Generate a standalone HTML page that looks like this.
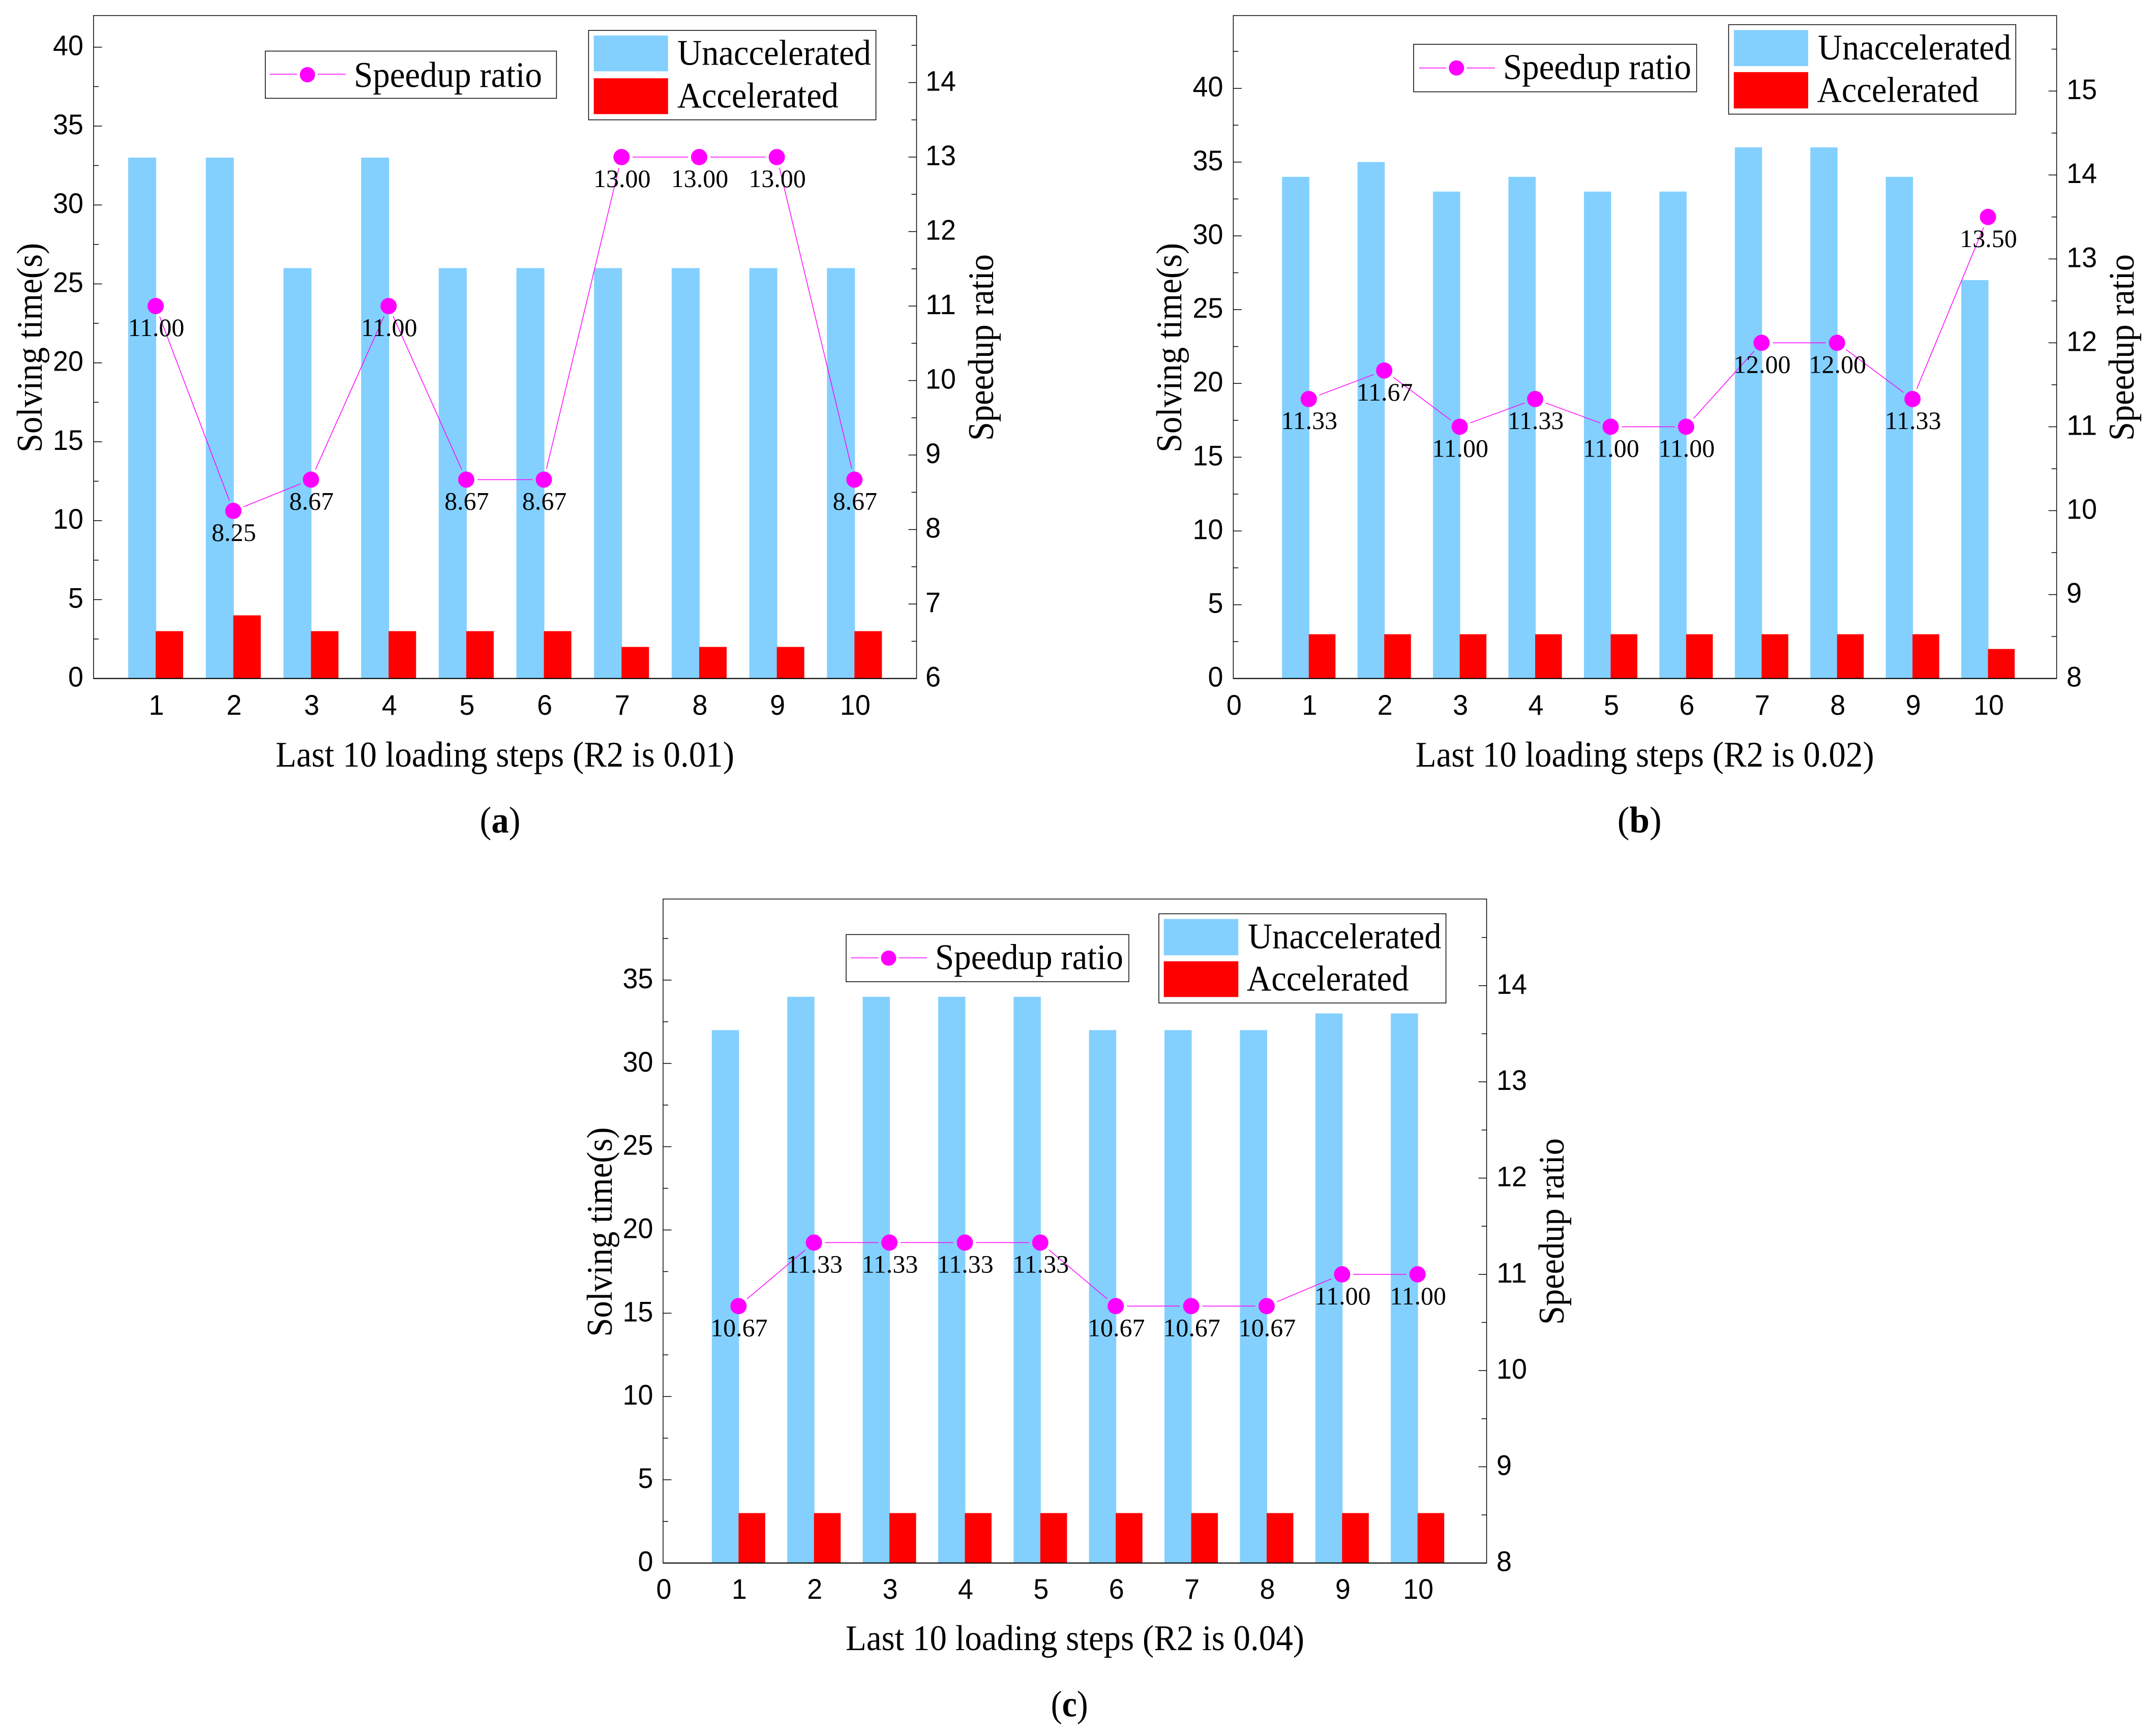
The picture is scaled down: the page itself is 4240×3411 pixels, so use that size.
<!DOCTYPE html>
<html lang="en">
<head>
<meta charset="utf-8">
<title>Solving time and speedup ratio for the last 10 loading steps</title>
<style>
html,body{margin:0;padding:0;background:#fff;}
svg{display:block;}
.serif{font-family:"Liberation Serif",serif;}
.sans{font-family:"Liberation Sans",sans-serif;}
</style>
</head>
<body>
<svg id="figure" xmlns="http://www.w3.org/2000/svg" width="4240" height="3411" viewBox="0 0 4240 3411"></svg>
<script>
// ---- chart data ----
const stepsA = [1,2,3,4,5,6,7,8,9,10];
const unacceleratedA = [33,33,26,33,26,26,26,26,26,26];
const acceleratedA = [3,4,3,3,3,3,2,2,2,3];
const speedupA = [11,8.25,8.67,11,8.67,8.67,13,13,13,8.67];
const xTickLabelsA = [1,2,3,4,5,6,7,8,9,10];
const leftTickLabelsA = [0,5,10,15,20,25,30,35,40];
const rightTickLabelsA = [6,7,8,9,10,11,12,13,14];

const stepsB = [1,2,3,4,5,6,7,8,9,10];
const unacceleratedB = [34,35,33,34,33,33,36,36,34,27];
const acceleratedB = [3,3,3,3,3,3,3,3,3,2];
const speedupB = [11.33,11.67,11,11.33,11,11,12,12,11.33,13.5];
const xTickLabelsB = [0,1,2,3,4,5,6,7,8,9,10];
const leftTickLabelsB = [0,5,10,15,20,25,30,35,40];
const rightTickLabelsB = [8,9,10,11,12,13,14,15];

const stepsC = [1,2,3,4,5,6,7,8,9,10];
const unacceleratedC = [32,34,34,34,34,32,32,32,33,33];
const acceleratedC = [3,3,3,3,3,3,3,3,3,3];
const speedupC = [10.67,11.33,11.33,11.33,11.33,10.67,10.67,10.67,11,11];
const xTickLabelsC = [0,1,2,3,4,5,6,7,8,9,10];
const leftTickLabelsC = [0,5,10,15,20,25,30,35];
const rightTickLabelsC = [8,9,10,11,12,13,14];

const xTitles = ["Last 10 loading steps (R2 is 0.01)","Last 10 loading steps (R2 is 0.02)","Last 10 loading steps (R2 is 0.04)"];

// ---- layout ----
const panels = [
 {id:"a", steps:stepsA, blue:unacceleratedA, red:acceleratedA, ratio:speedupA, xt:xTickLabelsA, lt:leftTickLabelsA, rt:rightTickLabelsA, title:xTitles[0],
  L:184, R:1802.5, T:30.6, B:1334.7, x0:0.2, x1:10.8, yMax:42, r0:6, r1:14.9, leftStep:5, rightStep:1,
  leftLabelX:164, rightLabelX:1820, xLabelY:1406,
  leftTitle:{x:82, y:890}, rightTitle:{x:1953, y:867}, xTitle:{x:542, y:1508, len:902},
  sub:{x:943.5, y:1637.5, len:80},
  sl:{x:521.7,y:100.5,r:1094.4,b:193.4, lx0:530.6,lx1:680, cx:604.6, cy:147, ly:146, tx:696, tlen:370, ty:171},
  bl:{x:1157.5,y:59.7,r:1722.6,b:235.7, sx0:1167.7,sx1:1313.8, by0:69.9,by1:140.3, ry0:154,ry1:224.5, ux:1332,ulen:381,uy:127.5, ax:1332,alen:317,ay:211.7}},
 {id:"b", steps:stepsB, blue:unacceleratedB, red:acceleratedB, ratio:speedupB, xt:xTickLabelsB, lt:leftTickLabelsB, rt:rightTickLabelsB, title:xTitles[1],
  L:2425.4, R:4044.6, T:30.6, B:1334.7, x0:0, x1:10.91, yMax:44.93, r0:8, r1:15.9, leftStep:5, rightStep:1,
  leftLabelX:2405.5, rightLabelX:4064, xLabelY:1406,
  leftTitle:{x:2323, y:890}, rightTitle:{x:4196, y:867}, xTitle:{x:2783.7, y:1508, len:902},
  sub:{x:3180.7, y:1637.5, len:87},
  sl:{x:2780,y:87.2,r:3336.6,b:180.6, lx0:2790.7,lx1:2940, cx:2864.3, cy:133.7, ly:133.7, tx:2956, tlen:370, ty:155.6},
  bl:{x:3399.5,y:48.5,r:3964.3,b:224.5, sx0:3409.7,sx1:3556, by0:59.2,by1:130, ry0:141.8,ry1:213.3, ux:3575,ulen:380,uy:116.8, ax:3573.6,alen:318,ay:200.5}},
 {id:"c", steps:stepsC, blue:unacceleratedC, red:acceleratedC, ratio:speedupC, xt:xTickLabelsC, lt:leftTickLabelsC, rt:rightTickLabelsC, title:xTitles[2],
  L:1304, R:2923.6, T:1768.5, B:3074.7, x0:0, x1:10.916, yMax:39.87, r0:8, r1:14.9, leftStep:5, rightStep:1,
  leftLabelX:1284.5, rightLabelX:2943, xLabelY:3145,
  leftTitle:{x:1203, y:2629.5}, rightTitle:{x:3075, y:2606}, xTitle:{x:1663, y:3246, len:902},
  sub:{x:2066.7, y:3376.7, len:73},
  sl:{x:1664,y:1838.4,r:2220,b:1931.2, lx0:1673.8,lx1:1823, cx:1747.5, cy:1884.8, ly:1884.3, tx:1839, tlen:370, ty:1906.7},
  bl:{x:2279,y:1797.5,r:2843.6,b:1973, sx0:2288.7,sx1:2435.3, by0:1807.8,by1:1879.2, ry0:1891,ry1:1961.3, ux:2454,ulen:380.5,uy:1865.4, ax:2452,alen:318.6,ay:1948.6}}
];

const NS = "http://www.w3.org/2000/svg";
const root = document.getElementById("figure");
const BLUE = "#83d0ff", RED = "#ff0000", MAG = "#ff00ff";
const BAR_W_UNITS = 0.354;
const LINE_GAP = 22;
const SERIF_SIZE = 71;
const SANS_SIZE = 56;
const DIGIT_WIDTH = 30;

function shape(parent, tag, attrs){
  const el = document.createElementNS(NS, tag);
  for (const k in attrs) el.setAttribute(k, attrs[k]);
  parent.appendChild(el);
  return el;
}
function label(parent, str, x, y, cls, size, anchor, len, rot){
  const el = shape(parent, "text", {x:x, y:y, "class":cls, "font-size":size, "text-anchor":anchor || "start", fill:"#000"});
  if (len) { el.setAttribute("textLength", len); el.setAttribute("lengthAdjust", "spacingAndGlyphs"); }
  if (rot) el.setAttribute("transform", "rotate(-90 " + x + " " + y + ")");
  el.textContent = str;
  return el;
}

panels.forEach(function(p){
  const g = shape(root, "g", {});
  
  

  // axis functions
  const xPos = function(v){ return p.L + (v - p.x0) / (p.x1 - p.x0) * (p.R - p.L); };
  const yLeft = function(v){ return p.B - v / p.yMax * (p.B - p.T); };
  const yRight = function(v){ return p.B - (v - p.r0) / (p.r1 - p.r0) * (p.B - p.T); };
  const barW = BAR_W_UNITS * (xPos(1) - xPos(0));

  // bars
  p.steps.forEach(function(s, i){
    const blueBar = shape(g, "rect", {x:xPos(s) - barW, y:yLeft(p.blue[i]), width:barW + 1, height:p.B - yLeft(p.blue[i]), fill:BLUE});
    
    
    const redBar = shape(g, "rect", {x:xPos(s), y:yLeft(p.red[i]), width:barW, height:p.B - yLeft(p.red[i]), fill:RED});
    
    
  });

  // frame
  const frame = shape(g, "rect", {x:p.L, y:p.T, width:p.R - p.L, height:p.B - p.T, fill:"none", stroke:"#000", "stroke-width":1.5});
  
  
  const xAxis = shape(g, "line", {x1:p.L, y1:p.B, x2:p.R, y2:p.B, stroke:"#000", "stroke-width":2.2});
  
  

  // left ticks
  p.lt.forEach(function(v){
    const tick = shape(g, "line", {x1:p.L, y1:yLeft(v), x2:p.L + 16.5, y2:yLeft(v), stroke:"#000", "stroke-width":1.5});
    
    
    const t = label(g, String(v), p.leftLabelX, yLeft(v) + 16, "sans", SANS_SIZE, "end", String(v).length * DIGIT_WIDTH);
    
    
    const mv = v + p.leftStep / 2;
    if (mv < p.yMax) {
      const minor = shape(g, "line", {x1:p.L, y1:yLeft(mv), x2:p.L + 10, y2:yLeft(mv), stroke:"#000", "stroke-width":1.5});
      
      
    }
  });

  // right ticks
  p.rt.forEach(function(v){
    const tick = shape(g, "line", {x1:p.R, y1:yRight(v), x2:p.R - 16, y2:yRight(v), stroke:"#000", "stroke-width":1.5});
    
    
    const t = label(g, String(v), p.rightLabelX, yRight(v) + 16, "sans", SANS_SIZE, "start", String(v).length * DIGIT_WIDTH);
    
    
    const mv = v + p.rightStep / 2;
    if (mv < p.r1) {
      const minor = shape(g, "line", {x1:p.R, y1:yRight(mv), x2:p.R - 10, y2:yRight(mv), stroke:"#000", "stroke-width":1.5});
      
      
    }
  });

  // x tick labels
  p.xt.forEach(function(v){
    const t = label(g, String(v), xPos(v) + 1.5, p.xLabelY, "sans", SANS_SIZE, "middle", String(v).length * DIGIT_WIDTH);
    
    
  });

  // speedup line with gaps around the markers
  for (let i = 0; i + 1 < p.steps.length; i++) {
    const ax = xPos(p.steps[i]), ay = yRight(p.ratio[i]);
    const bx = xPos(p.steps[i + 1]), by = yRight(p.ratio[i + 1]);
    const d = Math.hypot(bx - ax, by - ay);
    const ux = (bx - ax) / d, uy = (by - ay) / d;
    const seg = shape(g, "line", {x1:ax + ux * LINE_GAP, y1:ay + uy * LINE_GAP, x2:bx - ux * LINE_GAP, y2:by - uy * LINE_GAP, stroke:MAG, "stroke-width":1.5});
    
    
  }
  p.steps.forEach(function(s, i){
    const m = shape(g, "circle", {cx:xPos(s), cy:yRight(p.ratio[i]), r:16, fill:MAG});
    
    
  });
  p.steps.forEach(function(s, i){
    const t = label(g, p.ratio[i].toFixed(2), xPos(s) + 1, yRight(p.ratio[i]) + 59, "serif", 50, "middle");
    
    
  });

  // axis titles
  const lt = label(g, "Solving time(s)", p.leftTitle.x, p.leftTitle.y, "serif", SERIF_SIZE, "start", 412, true);
  
  
  const rt = label(g, "Speedup ratio", p.rightTitle.x, p.rightTitle.y, "serif", SERIF_SIZE, "start", 367, true);
  
  
  const xt = label(g, p.title, p.xTitle.x, p.xTitle.y, "serif", SERIF_SIZE, "start", p.xTitle.len);
  
  

  // panel letter
  const sub = label(g, "", p.sub.x, p.sub.y, "serif", 73, "start", p.sub.len);
  
  
  sub.appendChild(document.createTextNode("("));
  const bold = shape(sub, "tspan", {"font-weight":"bold"});
  bold.textContent = p.id;
  sub.appendChild(document.createTextNode(")"));

  // speedup legend
  const s = p.sl;
  const sLegend = shape(g, "g", {});
  
  
  shape(sLegend, "rect", {x:s.x, y:s.y, width:s.r - s.x, height:s.b - s.y, fill:"#fff", stroke:"#000", "stroke-width":1.5});
  const k1 = shape(sLegend, "line", {x1:s.lx0, y1:s.ly, x2:s.cx - 20, y2:s.ly, stroke:MAG, "stroke-width":1.5});
  
  
  const k2 = shape(sLegend, "line", {x1:s.cx + 20, y1:s.ly, x2:s.lx1, y2:s.ly, stroke:MAG, "stroke-width":1.5});
  
  
  const k3 = shape(sLegend, "circle", {cx:s.cx, cy:s.cy, r:15, fill:MAG});
  
  
  const k4 = label(sLegend, "Speedup ratio", s.tx, s.ty, "serif", SERIF_SIZE, "start", s.tlen);
  
  

  // bars legend
  const b = p.bl;
  const bLegend = shape(g, "g", {});
  
  
  shape(bLegend, "rect", {x:b.x, y:b.y, width:b.r - b.x, height:b.b - b.y, fill:"#fff", stroke:"#000", "stroke-width":1.5});
  const sw1 = shape(bLegend, "rect", {x:b.sx0, y:b.by0, width:b.sx1 - b.sx0, height:b.by1 - b.by0, fill:BLUE});
  
  
  const sw2 = shape(bLegend, "rect", {x:b.sx0, y:b.ry0, width:b.sx1 - b.sx0, height:b.ry1 - b.ry0, fill:RED});
  
  
  const t1 = label(bLegend, "Unaccelerated", b.ux, b.uy, "serif", SERIF_SIZE, "start", b.ulen);
  
  
  const t2 = label(bLegend, "Accelerated", b.ax, b.ay, "serif", SERIF_SIZE, "start", b.alen);
  
  
});
</script>
</body>
</html>
